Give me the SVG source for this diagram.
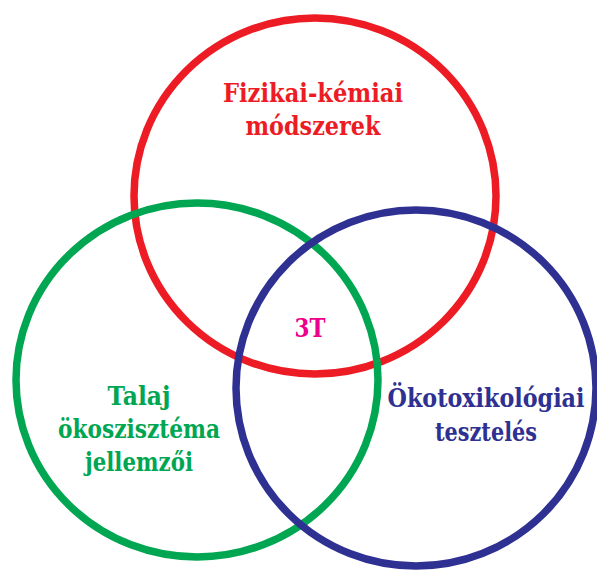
<svg xmlns="http://www.w3.org/2000/svg" width="597" height="570" viewBox="0 0 597 570">
<style>
.c{fill:none;stroke-width:7.5}
.t{font-family:'DejaVu Serif',serif;font-weight:700;font-size:26px;text-anchor:middle}
</style>
<rect width="597" height="570" fill="#fff"/>
<g id="red-node">
<ellipse class="c" cx="315" cy="196" rx="181" ry="178" stroke="#ED1C24"/>
<text class="t" x="313" y="102" fill="#ED1C24" textLength="180" lengthAdjust="spacingAndGlyphs">Fizikai-kémiai</text>
<text class="t" x="313" y="135" fill="#ED1C24" textLength="135" lengthAdjust="spacingAndGlyphs">módszerek</text>
</g>
<g id="green-node">
<ellipse class="c" cx="197" cy="380" rx="181" ry="177" stroke="#00A651"/>
<text class="t" x="139" y="405" fill="#00A651" textLength="63" lengthAdjust="spacingAndGlyphs">Talaj</text>
<text class="t" x="139" y="438" fill="#00A651" textLength="162" lengthAdjust="spacingAndGlyphs">ökoszisztéma</text>
<text class="t" x="139" y="471" fill="#00A651" textLength="108" lengthAdjust="spacingAndGlyphs">jellemzői</text>
</g>
<g id="blue-node">
<ellipse class="c" cx="416" cy="388" rx="180" ry="178" stroke="#2E3192"/>
<text class="t" x="486" y="407" fill="#2E3192" textLength="197" lengthAdjust="spacingAndGlyphs">Ökotoxikológiai</text>
<text class="t" x="486" y="441" fill="#2E3192" textLength="102" lengthAdjust="spacingAndGlyphs">tesztelés</text>
</g>
<g id="center-node">
<text class="t" x="310" y="337" fill="#EC008C" textLength="31" lengthAdjust="spacingAndGlyphs">3T</text>
</g>
<g id="connectors"></g>
</svg>
